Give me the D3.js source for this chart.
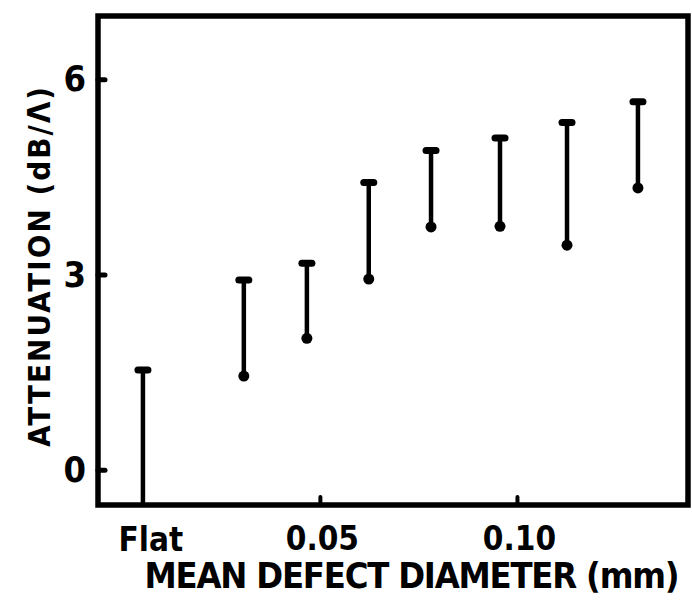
<!DOCTYPE html>
<html>
<head>
<meta charset="utf-8">
<script src="https://cdn.jsdelivr.net/npm/d3@7"></script>
<style>
  html, body { margin: 0; padding: 0; background: #fff; }
  svg { display: block; }
  text { font-family: "DejaVu Sans Condensed", "DejaVu Sans", "Liberation Sans", sans-serif; font-weight: bold; fill: #000; }
</style>
</head>
<body>
<svg id="chart" width="692" height="603"></svg>
<script>
// Mean defect diameter (mm) of each sample; the first one is the flat reference surface
const diameters = [0.0051, 0.0307, 0.0467, 0.0624, 0.0782, 0.0957, 0.1127, 0.1307];
// Attenuation range (dB per wavelength) for each sample
const lowValues  = [-0.54, 1.44, 2.02, 2.93, 3.73, 3.74, 3.45, 4.33];
const highValues = [1.55, 2.93, 3.19, 4.43, 4.92, 5.11, 5.35, 5.67];
const xTicks = [0.05, 0.10];
const xTickLabels = ["0.05", "0.10"];
const flatLabel = "Flat";
const yTicks = [0, 3, 6];
const xTitle = "MEAN DEFECT DIAMETER (mm)";
const yTitle = "ATTENUATION (dB/Λ)";

const svg = d3.select("#chart");
const box = { left: 98, right: 688, top: 16, bottom: 505 };
const fontFamily = '"DejaVu Sans Condensed", "DejaVu Sans", sans-serif';

const x = d3.scaleLinear().domain([-0.0063, 0.1434]).range([box.left, box.right]);
const y = d3.scaleLinear().domain([-0.54, 6.97]).range([box.bottom, box.top]);

const ink = "#000";

// Frame
svg.append("rect")
  .attr("x", box.left).attr("y", box.top)
  .attr("width", box.right - box.left).attr("height", box.bottom - box.top)
  .attr("fill", "none").attr("stroke", ink).attr("stroke-width", 5.5);

// Y ticks (short inward stubs) and labels
const yAxis = d3.axisLeft(y).tickValues(yTicks).tickSizeInner(-7).tickSizeOuter(0).tickPadding(12)
  .tickFormat(d3.format("d"));
const gy = svg.append("g").attr("transform", `translate(${box.left},0)`).call(yAxis);
gy.select(".domain").remove();
gy.selectAll(".tick line").attr("stroke", ink).attr("stroke-width", 5).attr("stroke-linecap", "round");
gy.selectAll(".tick text").attr("font-size", 36).attr("font-family", fontFamily)
  .attr("font-weight", "bold").attr("fill", ink);

// X ticks (short inward stubs) and labels
const xAxis = d3.axisBottom(x).tickValues(xTicks).tickSizeInner(-8).tickSizeOuter(0).tickPadding(22)
  .tickFormat((d, i) => xTickLabels[i]);
const gx = svg.append("g").attr("transform", `translate(0,${box.bottom})`).call(xAxis);
gx.select(".domain").remove();
gx.selectAll(".tick line").attr("stroke", ink).attr("stroke-width", 4).attr("stroke-linecap", "round");
gx.selectAll(".tick text").attr("font-size", 33).attr("font-family", fontFamily)
  .attr("font-weight", "bold").attr("fill", ink).attr("dx", 2);

// "Flat" label under the reference sample
svg.append("text")
  .attr("x", x(diameters[0]) + 8).attr("y", 551)
  .attr("text-anchor", "middle").attr("font-size", 33)
  .text(flatLabel);

// Axis titles
svg.append("text")
  .attr("x", 412).attr("y", 588)
  .attr("text-anchor", "middle").attr("font-size", 36)
  .attr("textLength", 535).attr("lengthAdjust", "spacing")
  .text(xTitle);

svg.append("text")
  .attr("transform", `translate(50,${(447 + 87) / 2}) rotate(-90)`)
  .attr("text-anchor", "middle").attr("font-size", 31)
  .attr("textLength", 360).attr("lengthAdjust", "spacing")
  .text(yTitle);

// Error bars
const bars = diameters.map((d, i) => ({ d, lo: lowValues[i], hi: highValues[i] }));
const g = svg.append("g");
g.selectAll("line.bar").data(bars).join("line")
  .attr("class", "bar")
  .attr("x1", b => x(b.d)).attr("x2", b => x(b.d))
  .attr("y1", b => y(b.lo)).attr("y2", b => y(b.hi))
  .attr("stroke", ink).attr("stroke-width", 4.5);
// Top caps
g.selectAll("line.cap").data(bars).join("line")
  .attr("class", "cap")
  .attr("x1", b => x(b.d) - 5).attr("x2", b => x(b.d) + 5)
  .attr("y1", b => y(b.hi) + 1).attr("y2", b => y(b.hi) + 1)
  .attr("stroke", ink).attr("stroke-width", 7).attr("stroke-linecap", "round");
// Bottom dots (not for the bar running into the axis)
g.selectAll("circle.end").data(bars.filter(b => b.lo > y.domain()[0])).join("circle")
  .attr("class", "end")
  .attr("cx", b => x(b.d)).attr("cy", b => y(b.lo))
  .attr("r", 5.5).attr("fill", ink);
</script>
</body>
</html>
